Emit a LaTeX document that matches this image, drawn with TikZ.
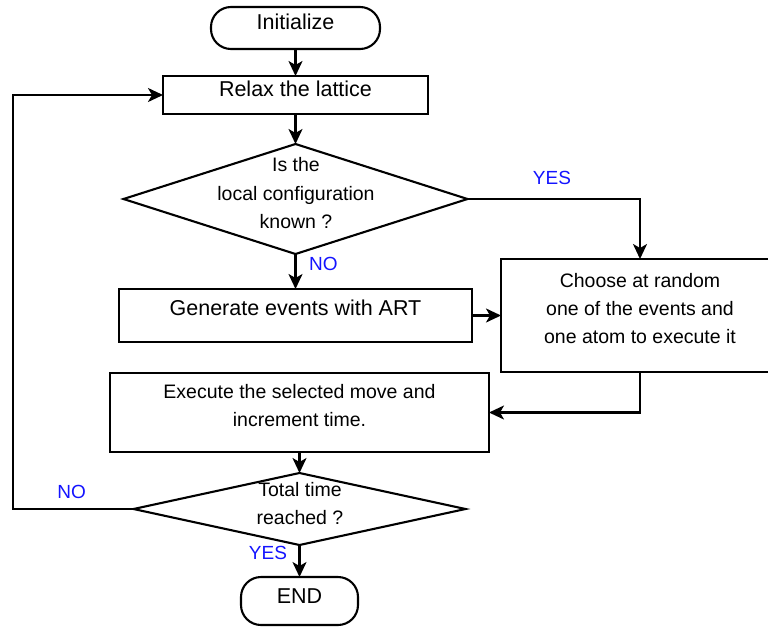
\documentclass[tikz,border=0pt]{standalone}
\usepackage{fontspec}
\setmainfont{Liberation Sans}
\usetikzlibrary{arrows.meta,shapes.geometric,calc}
\definecolor{lblblue}{HTML}{1414FF}
\begin{document}
\begin{tikzpicture}[x=1pt,y=-1pt,
  line width=2.1pt,
  box/.style={draw,rectangle,inner sep=0pt,outer sep=0pt},
  term/.style={box,rounded corners=20pt},
  decision/.style={draw,diamond,inner sep=0pt,outer sep=0pt},
  bigtxt/.style={inner sep=0pt,align=center,font=\fontsize{21.5}{26}\selectfont},
  smalltxt/.style={inner sep=0pt,align=center,font=\fontsize{19.5}{28.3}\selectfont},
  answer/.style={inner sep=0pt,text=lblblue,font=\fontsize{19}{23}\selectfont},
  flow/.style={-{Stealth[length=15pt,width=14pt,inset=4pt]},line width=2.1pt,line join=miter}]

\useasboundingbox (0,0) rectangle (768,627);

% shapes
\node[term,minimum width=169pt,minimum height=42pt] (init) at (295.5,28) {};
\node[box,minimum width=265pt,minimum height=38pt] (relax) at (295.5,95) {};
\node[decision,minimum width=344pt,minimum height=110pt] (known) at (295.5,199) {};
\node[box,minimum width=353pt,minimum height=53pt] (gen) at (295.5,315.5) {};
\node[box,minimum width=278pt,minimum height=113pt] (choose) at (640,315.5) {};
\node[box,minimum width=379pt,minimum height=79pt] (exec) at (299.5,412.5) {};
\node[decision,minimum width=332pt,minimum height=72pt] (total) at (299.5,509) {};
\node[term,minimum width=117pt,minimum height=48pt] (end) at (299.5,601) {};
\coordinate (loopcorner) at (13,509);

% texts
\node[bigtxt] (initT) at (295.5,22.2) {Initialize};
\node[bigtxt] (relaxT) at (295.5,89.2) {Relax the lattice};
\node[smalltxt] (knownT) at (296,193.3) {Is the\\local configuration\\known ?};
\node[bigtxt] (genT) at (295.5,308.3) {Generate events with ART};
\node[smalltxt] (chooseT) at (640,308.7) {Choose at random\\one of the events and\\one atom to execute it};
\node[smalltxt] (execT) at (299.5,405.8) {Execute the selected move and\\increment time.};
\node[smalltxt] (totalT) at (300,503.3) {Total time\\reached ?};
\node[bigtxt] (endT) at (299.5,595.8) {END};

% answer labels
\node[answer] (yes1) at (552,178.3) {YES};
\node[answer] (no1) at (323.3,263.5) {NO};
\node[answer] (no2) at (71.7,492) {NO};
\node[answer] (yes2) at (268,553) {YES};

% connectors
\draw[flow] (init.south) -- (relax.north);
\draw[flow] (relax.south) -- (known.north);
\draw[flow] (known.south) -- (gen.north);
\draw[flow] (known.east) -| (choose.north);
\draw[flow] (gen.east) -- (choose.west);
\draw[flow] (choose.south) |- (exec.east);
\draw[flow] (exec.south) -- (total.north);
\draw[flow] (total.south) -- (end.north);
\draw[flow] (total.west) -- (loopcorner) |- (relax.west);
\end{tikzpicture}
\end{document}
